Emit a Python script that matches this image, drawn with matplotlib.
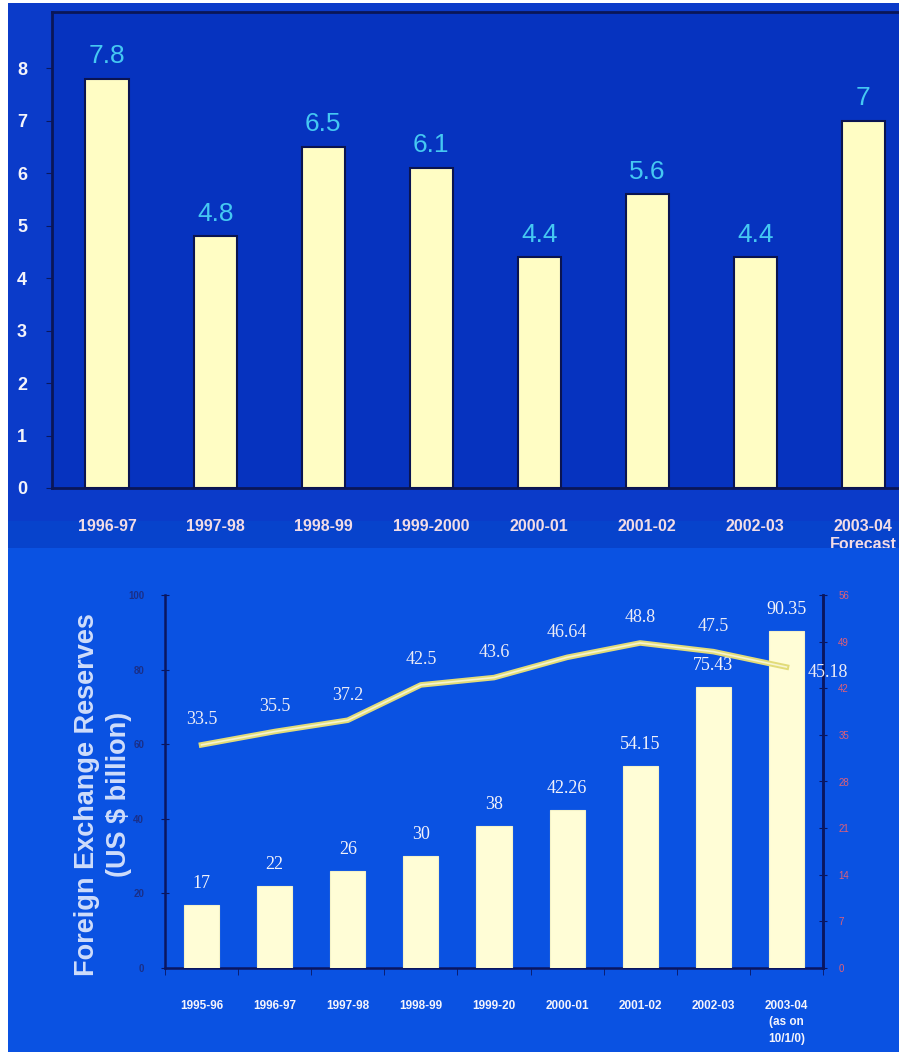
import matplotlib
matplotlib.use('Agg')
import matplotlib.pyplot as plt
import numpy as np
from matplotlib.patches import Rectangle

# top chart: GDP growth (%)
growth_years = ['1996-97', '1997-98', '1998-99', '1999-2000', '2000-01',
                '2001-02', '2002-03', '2003-04\nForecast']
growth_values = [7.8, 4.8, 6.5, 6.1, 4.4, 5.6, 4.4, 7]
growth_labels = ['7.8', '4.8', '6.5', '6.1', '4.4', '5.6', '4.4', '7']

# bottom chart: forex reserves (bars) + second series (line, right axis)
fx_years = ['1995-96', '1996-97', '1997-98', '1998-99', '1999-20', '2000-01',
            '2001-02', '2002-03', '2003-04\n(as on\n10/1/0)']
fx_reserves = [17, 22, 26, 30, 38, 42.26, 54.15, 75.43, 90.35]
fx_reserve_labels = ['17', '22', '26', '30', '38', '42.26', '54.15', '75.43', '90.35']
fx_line = [33.5, 35.5, 37.2, 42.5, 43.6, 46.64, 48.8, 47.5, 45.18]
fx_line_labels = ['33.5', '35.5', '37.2', '42.5', '43.6', '46.64', '48.8', '47.5', '45.18']

W, H = 899, 1058
SANS = ['Liberation Sans', 'DejaVu Sans']
SERIF = ['Liberation Serif', 'DejaVu Serif']
NARROW = ['Liberation Sans Narrow', 'Liberation Sans', 'DejaVu Sans']


def fig_rect(x0, y0, x1, y1):
    # pixel box (top-left origin) -> figure fraction [l, b, w, h]
    return [x0 / W, 1 - y1 / H, (x1 - x0) / W, (y1 - y0) / H]


fig = plt.figure(figsize=(W / 100, H / 100), dpi=100)
fig.patch.set_facecolor('white')

# panel backgrounds
bg_top = fig.add_axes(fig_rect(8, 3, 899, 548), zorder=0)
bg_top.set_axis_off()
bg_top.add_patch(Rectangle((0, 0), 1, 1, transform=bg_top.transAxes, color='#0B3BC9'))
bg_top.add_patch(Rectangle((0, 0), 1, 0.05, transform=bg_top.transAxes, color='#0743CC'))

# ---------------- top chart ----------------
ax1 = fig.add_axes(fig_rect(52, 12, 899, 488), zorder=1)
ax1.set_facecolor('#0633BF')
x1 = np.arange(len(growth_values))
ax1.bar(x1, growth_values, width=0.4, color='#FFFDC4', edgecolor='#0A1450', linewidth=1.5, zorder=3)
for xi, v, lab in zip(x1, growth_values, growth_labels):
    ax1.text(xi, v + 0.2, lab, ha='center', va='bottom', color='#45C8F2',
             fontsize=19, family=SANS, zorder=4)
ax1.set_xlim(-0.51, 7.33)
ax1.set_ylim(0, 9.07)
ax1.set_yticks(range(0, 9))
ax1.set_yticklabels([str(i) for i in range(0, 9)], color='#F4F4FA', fontsize=13,
                    fontweight='bold', family=SANS)
ax1.set_xticks(x1)
ax1.set_xticklabels(growth_years, color='#F2DCE6', fontsize=11.5, fontweight='bold',
                    family=SANS, linespacing=1.3)
ax1.tick_params(axis='y', length=4, color='#0A1860', pad=14)
ax1.tick_params(axis='x', length=0, pad=22)
for s in ['left', 'bottom', 'top']:
    ax1.spines[s].set_color('#0A1658')
    ax1.spines[s].set_linewidth(2)
ax1.spines['right'].set_visible(False)
for lab in ax1.get_xticklabels():
    lab.set_clip_on(False)

# bottom panel background drawn above the top chart so "Forecast" is cut
bg_bot = fig.add_axes(fig_rect(8, 548, 899, 1052), zorder=2)
bg_bot.set_axis_off()
bg_bot.add_patch(Rectangle((0, 0), 1, 1, transform=bg_bot.transAxes, color='#0A52E2'))

# ---------------- bottom chart ----------------
ax2 = fig.add_axes(fig_rect(165, 595, 823, 968), zorder=3)
ax2.set_facecolor('none')
x2 = np.arange(len(fx_reserves))
ax2.bar(x2, fx_reserves, width=0.48, color='#FFFDD6', edgecolor='#F4F2C8', linewidth=0.8, zorder=3)
for xi, v, lab in zip(x2, fx_reserves, fx_reserve_labels):
    ax2.text(xi, v + 3.5, lab, ha='center', va='bottom', color='#F2F2FA',
             fontsize=13, family=SERIF, zorder=4)
ax2.set_xlim(-0.5, 8.5)
ax2.set_ylim(0, 100)
ax2.set_yticks(range(0, 101, 20))
ax2.set_yticklabels([str(i) for i in range(0, 101, 20)], color='#1A2F88', fontsize=7,
                    fontweight='bold', family=SANS)
ax2.tick_params(axis='y', direction='inout', length=6, color='#0A1660', pad=12)
ax2.set_xticks(x2)
ax2.set_xticklabels(fx_years, color='#F4F4FC', fontsize=8.5, fontweight='bold',
                    family=NARROW, linespacing=1.5, va='top')
ax2.set_xticks(np.arange(-0.5, 9, 1), minor=True)
ax2.tick_params(axis='x', which='major', length=0, pad=23)
ax2.tick_params(axis='x', which='minor', length=5, color='#0A1660', direction='out')
for s in ['left', 'bottom', 'right']:
    ax2.spines[s].set_color('#0A1660')
    ax2.spines[s].set_linewidth(1.8)
ax2.spines['top'].set_visible(False)
ax2.set_ylabel('Foreign Exchange Reserves\n(US $ billion)', color='#CFDDFB', fontsize=19.5,
               fontweight='bold', family=SANS, linespacing=1.3)
ax2.yaxis.set_label_coords(-0.05, 0.465)

ax3 = ax2.twinx()
ax3.set_zorder(4)
ax3.set_ylim(0, 56)
ax3.set_yticks(range(0, 57, 7))
ax3.set_yticklabels([str(i) for i in range(0, 57, 7)], color='#E06078', fontsize=7,
                    family=SANS)
ax3.tick_params(axis='y', direction='inout', length=6, color='#0A1660', pad=8)
for s in ['left', 'bottom', 'top']:
    ax3.spines[s].set_visible(False)
ax3.spines['right'].set_color('#0A1660')
ax3.spines['right'].set_linewidth(1.8)
ax3.plot(x2, fx_line, color='#E2DC78', linewidth=4, solid_joinstyle='round', zorder=3)
ax3.plot(x2, fx_line, color='#F6F4D0', linewidth=1.2, zorder=3)
for xi, v, lab in zip(x2[:-1], fx_line[:-1], fx_line_labels[:-1]):
    ax3.annotate(lab, (xi, v), xytext=(0, 12), textcoords='offset points', ha='center',
                 va='bottom', color='#ECECF6', fontsize=13, family=SERIF)
ax3.annotate(fx_line_labels[-1], (x2[-1], fx_line[-1]), xytext=(15, -4),
             textcoords='offset points', ha='left', va='center', color='#ECECF6',
             fontsize=13, family=SERIF)

fig.savefig('out.png', dpi=100, facecolor=fig.get_facecolor())
plt.close(fig)
